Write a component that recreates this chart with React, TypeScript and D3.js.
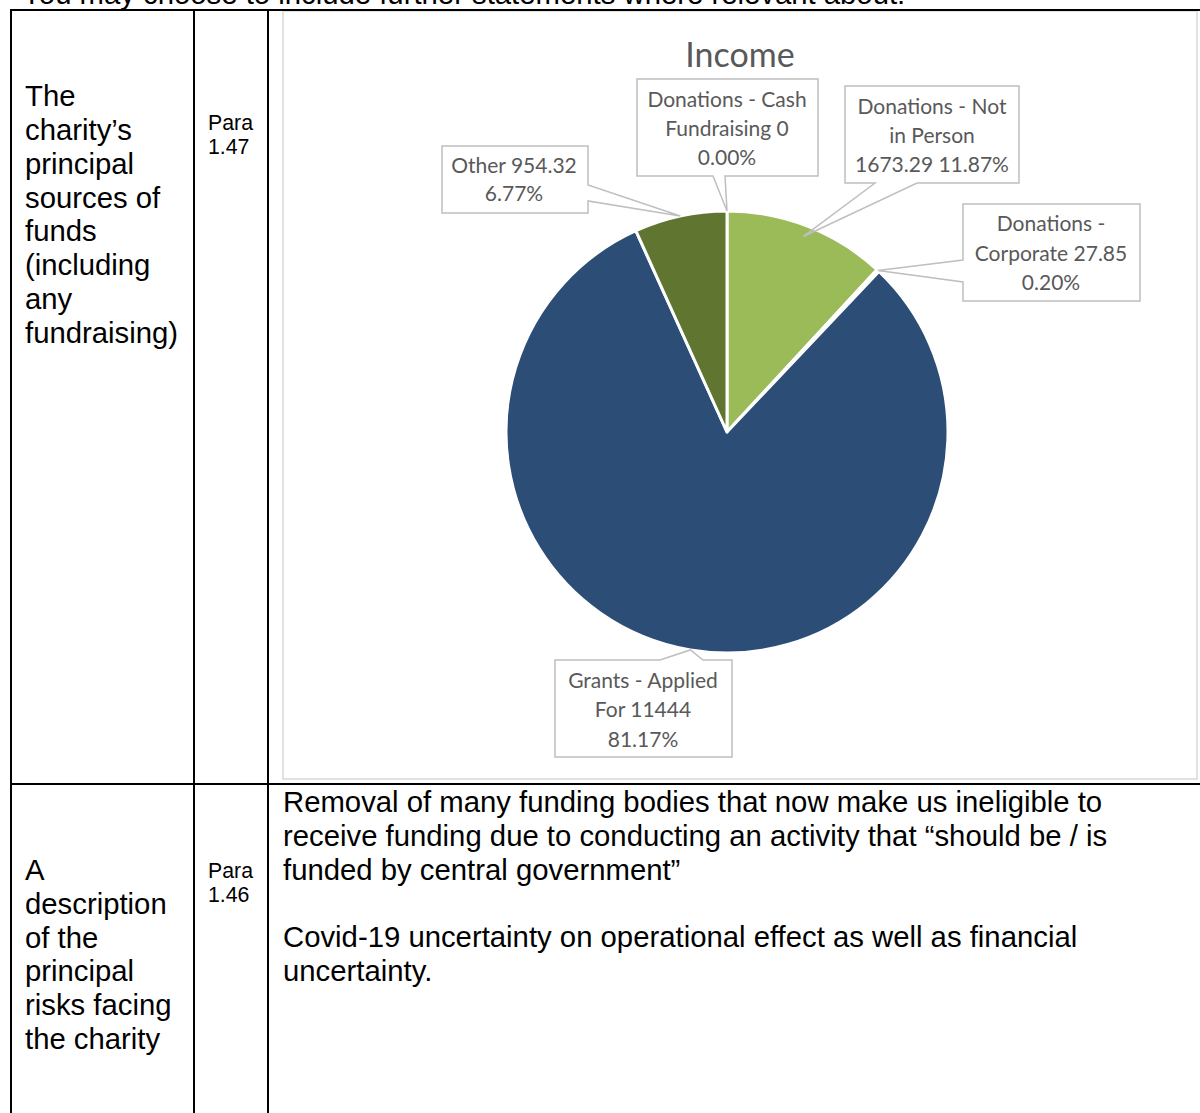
import React from "react";
import * as d3 from "d3";

const categories = [
  "Donations - Cash Fundraising",
  "Donations - Not in Person",
  "Donations - Corporate",
  "Grants - Applied For",
  "Other",
];
const values = [0, 1673.29, 27.85, 11444, 954.32];
const colors = ["#4F81BD", "#9BBB59", "#77933C", "#2C4D75", "#5F7530"];
const title = "Income";

const topText = "You may choose to include further statements where relevant about:";
const row1Label = ["The", "charity\u2019s", "principal", "sources of", "funds", "(including", "any", "fundraising)"];
const row1Para = ["Para", "1.47"];
const row2Label = ["A", "description", "of the", "principal", "risks facing", "the charity"];
const row2Para = ["Para", "1.46"];
const row2Text = [
  "Removal of many funding bodies that now make us ineligible to",
  "receive funding due to conducting an activity that \u201cshould be / is",
  "funded by central government\u201d",
  "",
  "Covid-19 uncertainty on operational effect as well as financial",
  "uncertainty.",
];

// layout of callouts (positions only)
type Callout = {
  box: [number, number, number, number];
  side: "top" | "right" | "bottom" | "left";
  base: [number, number];
  rf: number;
  words: number[];
  cx: number;
  ys: number[];
};
const callouts: Callout[] = [
  { box: [637, 79, 818, 176], side: "bottom", base: [713, 725], rf: 1.0, words: [3, 2, 1], cx: 727, ys: [100, 129, 158] },
  { box: [845, 86, 1019, 183], side: "bottom", base: [875, 917], rf: 0.95, words: [3, 2, 2], cx: 932, ys: [107, 136, 165] },
  { box: [963, 204, 1140, 301], side: "left", base: [260, 282], rf: 1.0, words: [2, 2, 1], cx: 1051, ys: [224, 254, 283] },
  { box: [555, 660, 732, 757], side: "top", base: [660, 703], rf: 1.0, words: [3, 2, 1], cx: 643, ys: [681, 710, 740] },
  { box: [442, 146, 588, 213], side: "right", base: [185, 201], rf: 1.0, words: [2, 1], cx: 514, ys: [166, 194] },
];

const CX = 727;
const CY = 432;
const R = 221;

function calloutPath(c: Callout, ax: number, ay: number) {
  const [x0, y0, x1, y1] = c.box;
  const [a, b] = c.base;
  const p: [number, number][] = [[x0, y0]];
  if (c.side === "top") p.push([a, y0], [ax, ay], [b, y0]);
  p.push([x1, y0]);
  if (c.side === "right") p.push([x1, a], [ax, ay], [x1, b]);
  p.push([x1, y1]);
  if (c.side === "bottom") p.push([b, y1], [ax, ay], [a, y1]);
  p.push([x0, y1]);
  if (c.side === "left") p.push([x0, b], [ax, ay], [x0, a]);
  return "M" + p.map((q) => q.join(",")).join("L") + "Z";
}

export default function App() {
  const total = d3.sum(values);
  const pie = d3
    .pie<number>()
    .sort(null)
    .value((d) => d)
    .startAngle(0)
    .endAngle(2 * Math.PI);
  const arcs = pie(values);
  const arc = d3.arc<d3.PieArcDatum<number>>().innerRadius(0).outerRadius(R);
  const pct = d3.format(".2%");

  const tableFont = "'Liberation Sans', Arial, sans-serif";
  const chartFont = "Lato, 'Open Sans', sans-serif";

  return (
    <div style={{ position: "absolute", left: 0, top: 0 }}>
      <svg width={1200} height={1113} style={{ display: "block", background: "#fff" }}>
        {/* top text partly cut, as in the reference */}
        <text x={22} y={4} fontFamily={tableFont} fontSize={29.3} fill="#000">
          {topText}
        </text>

        {/* chart frame */}
        <rect x={283} y={11} width={914} height={768} fill="#fff" stroke="#D9D9D9" strokeWidth={1.5} />

        {/* table lines */}
        <g stroke="#000" strokeWidth={2}>
          <line x1={11} y1={10} x2={1200} y2={10} />
          <line x1={11} y1={784} x2={1200} y2={784} />
          <line x1={11} y1={9} x2={11} y2={1113} />
          <line x1={194} y1={9} x2={194} y2={1113} />
          <line x1={268} y1={9} x2={268} y2={1113} />
        </g>

        {/* left columns */}
        <g fontFamily={tableFont} fontSize={29.3} fill="#000">
          {row1Label.map((t, i) => (
            <text key={"a" + i} x={25} y={106 + i * 33.86}>
              {t}
            </text>
          ))}
          {row2Label.map((t, i) => (
            <text key={"b" + i} x={25} y={880 + i * 33.8}>
              {t}
            </text>
          ))}
          {row2Text.map((t, i) => (
            <text key={"c" + i} x={283} y={812 + i * 33.75}>
              {t}
            </text>
          ))}
        </g>
        <g fontFamily={tableFont} fontSize={21.3} fill="#000">
          {row1Para.map((t, i) => (
            <text key={"p" + i} x={208} y={130 + i * 24}>
              {t}
            </text>
          ))}
          {row2Para.map((t, i) => (
            <text key={"q" + i} x={208} y={878 + i * 24}>
              {t}
            </text>
          ))}
        </g>

        {/* title */}
        <text x={740} y={67} textAnchor="middle" fontFamily={chartFont} fontSize={34} fill="#595959">
          {title}
        </text>

        {/* pie */}
        <g transform={`translate(${CX},${CY})`}>
          {arcs.map((a, i) => (
            <path key={i} d={arc(a) || ""} fill={colors[i]} stroke="#fff" strokeWidth={3} strokeLinejoin="round" />
          ))}
        </g>

        {/* callouts */}
        {arcs.map((a, i) => {
          const c = callouts[i];
          const mid = (a.startAngle + a.endAngle) / 2;
          const ax = CX + R * c.rf * Math.sin(mid);
          const ay = CY - R * c.rf * Math.cos(mid);
          const [x0, y0, x1, y1] = c.box;
          const label = `${categories[i]} ${values[i]} ${pct(values[i] / total)}`;
          const w = label.split(" ");
          const lines: string[] = [];
          let k = 0;
          c.words.forEach((n) => {
            lines.push(w.slice(k, k + n).join(" "));
            k += n;
          });
          return (
            <g key={"c" + i}>
              <rect x={x0} y={y0} width={x1 - x0} height={y1 - y0} fill="#fff" />
              <path d={calloutPath(c, ax, ay)} fill="none" stroke="#BFBFBF" strokeWidth={1.5} />
              {lines.map((t, j) => (
                <text
                  key={j}
                  x={c.cx}
                  y={c.ys[j]}
                  dy="0.35em"
                  textAnchor="middle"
                  fontFamily={chartFont}
                  fontSize={21}
                  fill="#595959"
                >
                  {t}
                </text>
              ))}
            </g>
          );
        })}
      </svg>
    </div>
  );
}
